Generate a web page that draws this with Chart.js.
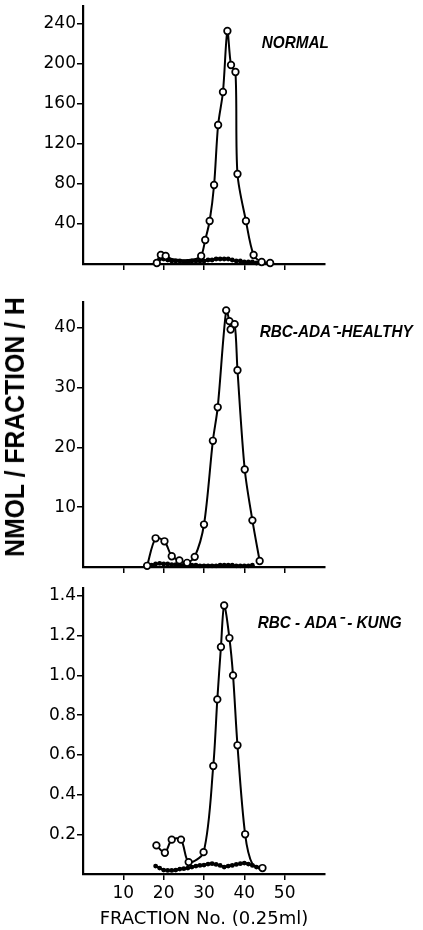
<!DOCTYPE html>
<html>
<head>
<meta charset="utf-8">
<script src="https://cdn.jsdelivr.net/npm/chart.js@4"></script>
<style>
  html, body { margin: 0; padding: 0; background: #fff; }
  #wrap { position: relative; width: 423px; height: 930px; overflow: hidden; }
  canvas { position: absolute; left: 0; }
  #ytitle {
    position: absolute; left: 15px; top: 427px; white-space: nowrap;
    font: bold 28px "Liberation Sans", Arial, sans-serif; color: #000;
    transform: translate(-50%, -50%) rotate(-90deg) scaleX(0.885);
  }
</style>
</head>
<body>
<div id="wrap">
  <canvas id="c1" width="423" height="300" style="top:-14px"></canvas>
  <canvas id="c2" width="423" height="300" style="top:282px"></canvas>
  <canvas id="c3" width="423" height="362" style="top:568px"></canvas>
  <div id="ytitle">NMOL / FRACTION / H</div>
</div>
<script>
// ---------- data ----------
const xTicks = [10, 20, 30, 40, 50];

// NORMAL (open = circles; points inside the dark band carry no visible circle)
const normalOpenX = [18.3, 19.3, 20.5, 22, 24, 26, 28, 29.3, 30.3, 31.4, 32.5, 33.5, 34.7, 35.8, 36.7, 37.8, 38.3, 40.4, 42.3, 44.3, 46.4];
const normalOpenY = [1, 9, 8, 5, 4, 4, 5, 8, 24, 43, 79, 139, 172, 233, 199, 192, 90, 43, 9, 2, 1];
const normalOpenShown = [1, 1, 1, 0, 0, 0, 0, 1, 1, 1, 1, 1, 1, 1, 1, 1, 1, 1, 1, 1, 1];
const normalDotX = [18, 19, 20, 21, 22, 23, 24, 25, 26, 27, 28, 29, 30, 31, 32, 33, 34, 35, 36, 37, 38, 39, 40, 41, 42, 43, 44];
const normalDotY = [2, 5, 5, 4, 3, 3, 3, 2, 2, 3, 3, 3, 3, 4, 4, 5, 5, 5, 5, 4, 3, 3, 2, 2, 2, 1, 1];
const normalYTicks = [40, 80, 120, 160, 200, 240];

// RBC-ADA- HEALTHY
const healthyOpenX = [15.9, 18, 20.2, 22, 23.9, 25.8, 27.7, 30, 32.2, 33.4, 35.5, 36.3, 36.6, 37.6, 38.3, 40.1, 42, 43.8];
const healthyOpenY = [0.2, 4.8, 4.3, 1.8, 1.1, 0.7, 1.7, 7.1, 21.1, 26.7, 42.9, 41.1, 39.7, 40.6, 32.9, 16.3, 7.8, 1];
const healthyDotX = [17, 18, 19, 20, 21, 22, 23, 24, 25, 26, 27, 28, 29, 30, 31, 32, 33, 34, 35, 36, 37, 38, 39, 40, 41, 42];
const healthyDotY = [0.3, 0.5, 0.6, 0.5, 0.5, 0.4, 0.4, 0.3, 0.3, 0.3, 0.3, 0.3, 0.2, 0.2, 0.2, 0.2, 0.2, 0.3, 0.3, 0.3, 0.3, 0.2, 0.2, 0.2, 0.2, 0.3];
const healthyYTicks = [10, 20, 30, 40];

// RBC-ADA- KUNG
const kungOpenX = [18.2, 20.3, 22, 24.3, 26.2, 29.9, 32.3, 33.3, 34.2, 35, 36.3, 37.2, 38.3, 40.2, 42, 44.5];
const kungOpenY = [0.144, 0.107, 0.173, 0.173, 0.06, 0.11, 0.544, 0.879, 1.143, 1.352, 1.188, 1.0, 0.648, 0.2, 0.05, 0.03];
const kungOpenShown = [1, 1, 1, 1, 1, 1, 1, 1, 1, 1, 1, 1, 1, 1, 0, 1];
const kungDotX = [18, 19, 20, 21, 22, 23, 24, 25, 26, 27, 28, 29, 30, 31, 32, 33, 34, 35, 36, 37, 38, 39, 40, 41, 42, 43, 44];
const kungDotY = [0.04, 0.03, 0.02, 0.018, 0.018, 0.02, 0.025, 0.027, 0.03, 0.035, 0.04, 0.043, 0.045, 0.05, 0.052, 0.048, 0.043, 0.035, 0.04, 0.043, 0.048, 0.052, 0.055, 0.05, 0.043, 0.035, 0.03];
const kungYTicks = [0.2, 0.4, 0.6, 0.8, 1.0, 1.2, 1.4];

const zip = (xs, ys) => xs.map((x, i) => ({ x, y: ys[i] }));

// ---------- panel caption plugin ----------
const panelLabel = {
  id: 'panelLabel',
  afterDatasetsDraw(chart, args, opts) {
    if (!opts || !opts.text) return;
    const { ctx, scales } = chart;
    const x = scales.x.getPixelForValue(opts.x);
    const y = scales.y.getPixelForValue(opts.y);
    ctx.save();
    ctx.font = 'italic bold 17px "Liberation Sans", Arial, sans-serif';
    ctx.fillStyle = '#000';
    ctx.textBaseline = 'middle';
    ctx.translate(x, y);
    ctx.scale(0.9, 1);
    ctx.fillText(opts.text, 0, 0);
    ctx.restore();
  }
};

const tickFont = { family: '"DejaVu Sans", sans-serif', size: 17 };

function makePanel(id, openX, openY, shown, dotX, dotY, yMax, yTicks, xAxisH, lastPanel, label, fmt) {
  return new Chart(document.getElementById(id), {
    type: 'line',
    data: {
      datasets: [
        {
          data: zip(openX, openY),
          borderColor: '#000', borderWidth: 2,
          pointRadius: c => (shown && !shown[c.dataIndex]) ? 0 : 3.3,
          pointBorderWidth: 1.7,
          pointBackgroundColor: '#fff', pointBorderColor: '#000',
          tension: 0.3, clip: false
        },
        {
          data: zip(dotX, dotY),
          borderColor: '#000', borderWidth: 2.5,
          pointRadius: 2.4, pointBorderWidth: 0,
          pointBackgroundColor: '#000',
          cubicInterpolationMode: 'monotone', clip: false
        }
      ]
    },
    options: {
      responsive: false,
      animation: false,
      events: [],
      layout: { padding: { top: 20, right: 98, left: 0, bottom: 0 } },
      plugins: {
        legend: { display: false },
        tooltip: { enabled: false },
        panelLabel: label
      },
      scales: {
        x: {
          type: 'linear', min: 0, max: 60,
          afterBuildTicks: s => { s.ticks = xTicks.map(v => ({ value: v })); },
          afterFit: s => { s.height = xAxisH; },
          grid: { display: true, drawOnChartArea: false, drawTicks: true, tickLength: 6, color: '#000', lineWidth: 1.5 },
          border: { display: true, color: '#000', width: 2.2 },
          ticks: { display: lastPanel, color: '#000', font: tickFont, padding: 3, maxRotation: 0 },
          title: {
            display: lastPanel, text: 'FRACTION No. (0.25ml)', color: '#000',
            font: { family: '"DejaVu Sans", sans-serif', size: 18 }, padding: { top: 0, bottom: 0 }
          }
        },
        y: {
          type: 'linear', min: 0, max: yMax,
          afterBuildTicks: s => { s.ticks = yTicks.map(v => ({ value: v })); },
          afterFit: s => { s.width = 83; },
          grid: { display: true, drawOnChartArea: false, drawTicks: true, tickLength: 6, color: '#000', lineWidth: 1.5 },
          border: { display: true, color: '#000', width: 2.2 },
          ticks: { color: '#000', font: tickFont, padding: 1, callback: fmt }
        }
      }
    },
    plugins: [panelLabel]
  });
}

makePanel('c1', normalOpenX, normalOpenY, normalOpenShown, normalDotX, normalDotY, 258, normalYTicks, 22, false,
  { text: 'NORMAL', x: 44.3, y: 221 }, v => String(v));
makePanel('c2', healthyOpenX, healthyOpenY, null, healthyDotX, healthyDotY, 44.3, healthyYTicks, 15, false,
  { text: 'RBC-ADA\u207B-HEALTHY', x: 43.8, y: 39.3 }, v => String(v));
makePanel('c3', kungOpenX, kungOpenY, kungOpenShown, kungDotX, kungDotY, 1.44, kungYTicks, 56, true,
  { text: 'RBC - ADA\u207B - KUNG', x: 43.3, y: 1.26 }, v => v.toFixed(1));
</script>
</body>
</html>
